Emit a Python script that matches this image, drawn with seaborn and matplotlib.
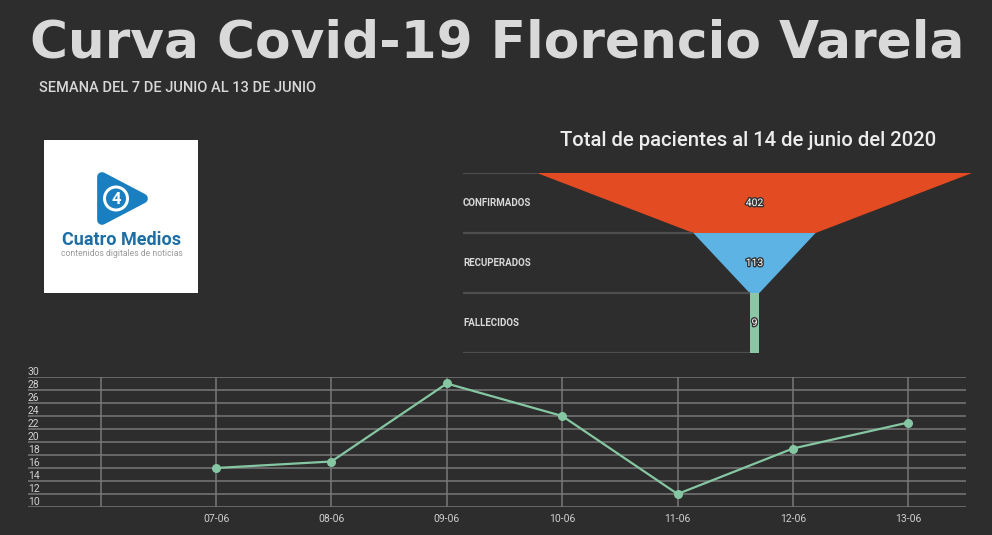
import matplotlib.pyplot as plt
import matplotlib.patheffects as pe
from matplotlib.patches import Polygon, Circle
import seaborn as sns
import pandas as pd

# Casos diarios, semana del 7 al 13 de junio
dates = ['07-06', '08-06', '09-06', '10-06', '11-06', '12-06', '13-06']
cases = [16, 17, 29, 24, 12, 19, 23]
y_ticks = list(range(10, 31, 2))

# Totales al 14 de junio
stages = ['CONFIRMADOS', 'RECUPERADOS', 'FALLECIDOS']
totals = [402, 113, 9]
stage_colors = ['#e34b22', '#5db3e4', '#8dc6a5']

BG = '#2d2d2d'
TXT = '#d8d8d8'
GRID = '#787878'
LINE = '#86c7a3'

sns.set_style('dark', rc={'axes.facecolor': BG, 'figure.facecolor': BG})
plt.rcParams['font.family'] = ['Roboto', 'DejaVu Sans']

fig = plt.figure(figsize=(9.92, 5.35), dpi=100)
W, H = 992, 535


def px_axes(x0, y0, x1, y1):
    return fig.add_axes([x0 / W, 1 - y1 / H, (x1 - x0) / W, (y1 - y0) / H])


# Titles
fig.text(497 / W, 1 - 43 / H, 'Curva Covid-19 Florencio Varela', ha='center', va='center',
         fontsize=37.3, weight='bold', family='DejaVu Sans', color='#d9d9d9')
fig.text(39 / W, 1 - 88 / H, 'SEMANA DEL 7 DE JUNIO AL 13 DE JUNIO', ha='left', va='center',
         fontsize=10.5, weight='medium', color=TXT)

# Logo
lg = px_axes(44, 140, 198, 293)
lg.set_xlim(0, 154)
lg.set_ylim(153, 0)
lg.set_facecolor('white')
lg.set_xticks([])
lg.set_yticks([])
for s in lg.spines.values():
    s.set_visible(False)
lg.add_patch(Polygon([[58, 37], [58, 80], [99, 58.5]], closed=True, facecolor='#1a7fc1',
                     edgecolor='#1a7fc1', linewidth=7, joinstyle='round'))
lg.add_patch(Circle((72, 58.5), 13, facecolor='white', edgecolor='none'))
lg.add_patch(Circle((72, 58.5), 10, facecolor='#1a7fc1', edgecolor='none'))
lg.text(72, 59, '4', ha='center', va='center', fontsize=12, weight='bold', color='white')
lg.text(78, 100, 'Cuatro Medios', ha='center', va='center', fontsize=13, weight='bold',
        color='#1e6ea6', family='Roboto')
lg.text(78, 113, 'contenidos digitales de noticias', ha='center', va='center', fontsize=6.2,
        color='#9a9a9a')

# Funnel
fig.text(748 / W, 1 - 141 / H, 'Total de pacientes al 14 de junio del 2020', ha='center',
         va='center', fontsize=14.6, weight='medium', color='#ececec')
fa = px_axes(463, 173, 972, 353)
half = totals[0] / 2
fa.set_xlim(-half * 1.34, half)
fa.set_ylim(len(totals), 0)
fa.axis('off')
widths = totals + [totals[-1]]
for i, (name, val, col) in enumerate(zip(stages, totals, stage_colors)):
    top, bot = val / 2, widths[i + 1] / 2
    if i == len(totals) - 1:
        bot = top
    fa.add_patch(Polygon([[-top, i], [top, i], [bot, i + 1], [-bot, i + 1]], closed=True,
                         facecolor=col, edgecolor='none'))
    fa.text(-half * 1.34, i + 0.5, name, ha='left', va='center', fontsize=7,
            weight='bold', color=TXT)
    fa.text(0, i + 0.5, str(val), ha='center', va='center', fontsize=7.5, color='white',
            path_effects=[pe.withStroke(linewidth=2, foreground='#333333')])
edges = [totals[0]] + totals[1:] + [totals[-1]]
for i, w in enumerate(edges):
    fa.plot([-half * 1.34, -w / 2], [i, i], color='#4e4e4e', lw=1.6, solid_capstyle='butt')

# Line chart
ax = px_axes(28, 377, 966, 507)
df = pd.DataFrame({'pos': range(len(dates)), 'cases': cases})
sns.lineplot(data=df, x='pos', y='cases', ax=ax, color=LINE, lw=1.6, marker='o',
             markersize=6.5, markeredgewidth=0)
ax.set_xlim(-1.63, 6.5)
ax.set_ylim(10, 30)
ax.set_xticks(range(-1, len(dates)))
ax.set_xticklabels([''] + dates)
ax.set_yticks(y_ticks)
ax.set_yticklabels([str(v) for v in y_ticks])
ax.grid(True, color=GRID, lw=1.1)
ax.set_axisbelow(True)
for s in ax.spines.values():
    s.set_visible(False)
ax.set_xlabel('')
ax.set_ylabel('')
ax.tick_params(axis='both', length=0, labelsize=7.5, labelcolor='#d0d0d0')
ax.tick_params(axis='x', pad=5)
ax.tick_params(axis='y', pad=0)
for lab in ax.get_yticklabels():
    lab.set_ha('left')
    lab.set_va('bottom')

fig.savefig('out.png', dpi=100, facecolor=BG)
